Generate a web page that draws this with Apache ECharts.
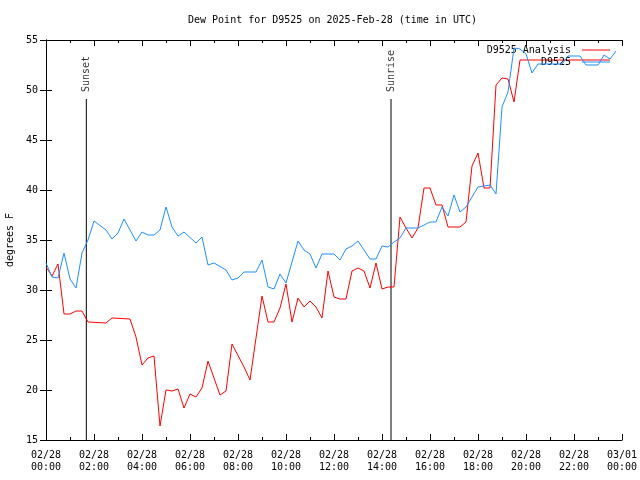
<!DOCTYPE html>
<html>
<head>
<meta charset="utf-8">
<script src="https://cdn.jsdelivr.net/npm/echarts@6/dist/echarts.min.js"></script>
<style>html,body{margin:0;padding:0;background:#fff}#c{width:640px;height:480px}</style>
</head>
<body>
<div id="c"></div>
<script>
// Hours since 2025-02-28 00:00 UTC
var analysisTimes = [0,0.25,0.5,0.75,1,1.25,1.5,1.75,2.5,2.75,3.5,3.75,4,4.25,4.5,4.75,5,5.25,5.5,5.75,6,6.25,6.5,6.75,7.25,7.5,7.75,8.25,8.5,9,9.25,9.5,9.75,10,10.25,10.5,10.75,11,11.25,11.5,11.75,12,12.25,12.5,12.75,13,13.25,13.5,13.75,14,14.25,14.5,14.75,15,15.25,15.5,15.75,16,16.25,16.5,16.75,17.25,17.5,17.75,18,18.25,18.5,18.75,19,19.25,19.5,19.75,20.75,21.5,22.5,23.5];
var analysisValues = [32.3,31.4,32.6,27.6,27.6,27.9,27.9,26.8,26.7,27.2,27.1,25.3,22.5,23.2,23.4,16.4,20.0,19.9,20.1,18.2,19.6,19.3,20.2,22.9,19.5,19.9,24.6,22.3,21.0,29.4,26.8,26.8,28.2,30.6,26.8,29.2,28.3,28.9,28.3,27.2,31.9,29.3,29.1,29.1,31.9,32.2,31.9,30.2,32.7,30.1,30.3,30.3,37.3,36.2,35.2,36.2,40.2,40.2,38.5,38.5,36.3,36.3,36.8,42.4,43.7,40.2,40.2,50.5,51.2,51.1,48.8,53.0,53.0,53.0,53.0,53.0];

var obsTimes = [0,0.25,0.5,0.75,1,1.25,1.5,1.75,2,2.5,2.75,3,3.25,3.75,4,4.25,4.5,4.75,5,5.25,5.5,5.75,6.25,6.5,6.75,7,7.5,7.75,8,8.25,8.75,9,9.25,9.5,9.75,10,10.5,10.75,11,11.25,11.5,12,12.25,12.5,12.75,13,13.5,13.75,14,14.25,14.5,14.75,15,15.5,16,16.25,16.5,16.75,17,17.25,17.5,18,18.5,18.75,19,19.25,19.5,19.75,20,20.25,20.5,21.5,21.75,22.25,22.5,23,23.25,23.5,23.75];
var obsValues = [32.7,31.3,31.2,33.7,31.1,30.2,33.7,35.0,36.9,36.0,35.1,35.7,37.1,34.9,35.8,35.5,35.5,36.0,38.3,36.3,35.4,35.8,34.7,35.3,32.5,32.7,32.0,31.0,31.2,31.8,31.8,33.0,30.3,30.1,31.6,30.7,34.9,34.0,33.6,32.2,33.6,33.6,33.0,34.1,34.4,34.9,33.1,33.1,34.4,34.3,34.8,35.2,36.2,36.2,36.8,36.8,38.3,37.4,39.5,37.8,38.3,40.3,40.5,39.6,48.3,49.8,54.2,54.1,53.6,51.7,52.6,52.6,53.4,53.4,52.5,52.5,53.5,53.1,53.9];

var markerNames = ['Sunset', 'Sunrise'];
var markerTimes = [1.68, 14.375];
var markerTop = 49.1;

var xTickHours = [0,2,4,6,8,10,12,14,16,18,20,22,24];
var xTickLabels = ['02/28\n00:00','02/28\n02:00','02/28\n04:00','02/28\n06:00','02/28\n08:00','02/28\n10:00','02/28\n12:00','02/28\n14:00','02/28\n16:00','02/28\n18:00','02/28\n20:00','02/28\n22:00','03/01\n00:00'];
var yTicks = [15,20,25,30,35,40,45,50,55];

var titleText = 'Dew Point for D9525 on 2025-Feb-28 (time in UTC)';
var yName = 'degrees F';
var seriesNames = ['D9525 Analysis', 'D9525'];

function zip(a, b) { return a.map(function (t, i) { return [t, b[i]]; }); }

var FONT = 'DejaVu Sans Mono';
var txt = { fontFamily: FONT, fontSize: 10, color: '#000' };

var series = [
  { name: seriesNames[0], type: 'line', data: zip(analysisTimes, analysisValues), showSymbol: false, symbol: 'none',
    lineStyle: { color: '#ff0000', width: 1 }, itemStyle: { color: '#ff0000' }, z: 3 },
  { name: seriesNames[1], type: 'line', data: zip(obsTimes, obsValues), showSymbol: false, symbol: 'none',
    lineStyle: { color: '#1e90ff', width: 1 }, itemStyle: { color: '#1e90ff' }, z: 4 }
];
markerTimes.forEach(function (t, i) {
  series.push({ type: 'line', data: [[t, 15], [t, markerTop]], symbol: 'none', silent: true,
    lineStyle: { color: '#000', width: 1 }, z: 2 });
});
series.push({
  type: 'scatter', symbolSize: 0, silent: true, z: 5,
  data: markerTimes.map(function (t, i) { return { value: [t, markerTop + 0.7], name: markerNames[i] }; }),
  label: { show: true, position: 'inside', rotate: 90, align: 'left', verticalAlign: 'middle',
    formatter: function (p) { return p.name; }, fontFamily: FONT, fontSize: 10, color: '#000' }
});

var chart = echarts.init(document.getElementById('c'), null, { renderer: 'canvas' });
chart.setOption({
  animation: false,
  backgroundColor: '#fff',
  title: { text: titleText, left: 188, top: 15, padding: 0,
    textStyle: { fontFamily: FONT, fontSize: 10, fontWeight: 'normal', color: '#000' } },
  legend: {
    data: seriesNames, orient: 'vertical', align: 'right', right: 30, top: 44, padding: 0,
    itemGap: 0, itemWidth: 28, itemHeight: 1, icon: 'rect',
    formatter: function (n) { return n + ' '; },
    textStyle: { fontFamily: FONT, fontSize: 10, color: '#000', lineHeight: 12 }
  },
  grid: { left: 46, right: 18, top: 40, bottom: 40, containLabel: false, outerBoundsMode: 'none', show: false },
  xAxis: [
    { type: 'value', min: 0, max: 24, interval: 2, position: 'bottom',
      axisLine: { lineStyle: { color: '#000', width: 1 } },
      axisTick: { inside: true, length: 6, lineStyle: { color: '#000' } },
      minorTick: { show: true, splitNumber: 2, length: 3, lineStyle: { color: '#000' } },
      splitLine: { show: false },
      axisLabel: Object.assign({ margin: 9, lineHeight: 12, hideOverlap: false,
        formatter: function (v) { var i = xTickHours.indexOf(v); return i >= 0 ? xTickLabels[i] : ''; } }, txt) },
    { type: 'value', min: 0, max: 24, interval: 2, position: 'top',
      axisLine: { lineStyle: { color: '#000', width: 1 } },
      axisTick: { inside: true, length: 6, lineStyle: { color: '#000' } },
      minorTick: { show: true, splitNumber: 2, length: 3, lineStyle: { color: '#000' } },
      splitLine: { show: false }, axisLabel: { show: false } }
  ],
  yAxis: [
    { type: 'value', min: 15, max: 55, interval: 5, position: 'left',
      name: yName, nameLocation: 'middle', nameGap: 31, nameRotate: 90,
      nameTextStyle: { fontFamily: FONT, fontSize: 10, color: '#000' },
      axisLine: { show: true, lineStyle: { color: '#000', width: 1 } },
      axisTick: { show: true, inside: true, length: 6, lineStyle: { color: '#000' } },
      splitLine: { show: false },
      axisLabel: Object.assign({ margin: 8,
        formatter: function (v) { return yTicks.indexOf(v) >= 0 ? String(v) : ''; } }, txt) },
    { type: 'value', min: 15, max: 55, interval: 5, position: 'right',
      axisLine: { show: true, lineStyle: { color: '#000', width: 1 } },
      axisTick: { show: true, inside: true, length: 6, lineStyle: { color: '#000' } },
      splitLine: { show: false }, axisLabel: { show: false } }
  ],
  series: series
});
</script>
</body>
</html>
